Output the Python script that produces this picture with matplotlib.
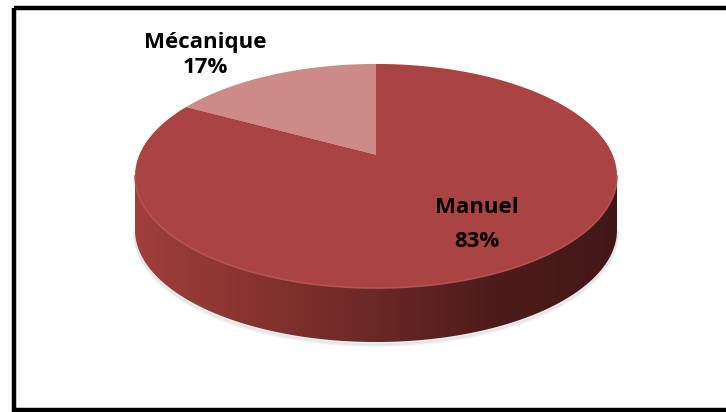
import numpy as np
import matplotlib.pyplot as plt
from matplotlib.patches import Polygon, Rectangle
from matplotlib.colors import LinearSegmentedColormap

# data
labels = ['Mécanique', 'Manuel']
values = [17, 83]
colors = ['#CD8A88', '#A94442']

# layout of the 3d pie (pixels)
cx, cy = 376, 154.7
sx, sy = 236.6, 108.0
k = 0.19          # perspective
depth = 54


def project(theta):
    u = np.cos(theta)
    v = np.sin(theta)
    d = 1 + k * v
    return cx + sx * u / d, cy - sy * v / d


fig = plt.figure(figsize=(7.26, 4.12), dpi=100)
ax = fig.add_axes([0, 0, 1, 1])
ax.set_xlim(0, 726)
ax.set_ylim(412, 0)
ax.axis('off')

# side of the pie
t_front = np.linspace(np.pi + np.arcsin(k), 2 * np.pi - np.arcsin(k), 300)
fx, fy = project(t_front)
side_pts = np.vstack([np.column_stack([fx, fy]),
                      np.column_stack([fx[::-1], fy[::-1] + depth])])

# soft shadow under the pie
for i, a in enumerate([0.06, 0.05, 0.04]):
    ax.plot(fx, fy + depth + 1.5 + i, color='#555555', alpha=a, lw=2.5, zorder=1)

side = Polygon(side_pts, closed=True, facecolor='none', edgecolor='none', zorder=2)
ax.add_patch(side)
cmap = LinearSegmentedColormap.from_list('side', ['#A03F3C', '#86332F', '#6A2826', '#4C1C1A', '#421816'])
grad = np.linspace(0, 1, 256).reshape(1, -1)
img = ax.imshow(grad, cmap=cmap, extent=[fx.min(), fx.max(), fy.max() + depth, fy.min()],
                aspect='auto', zorder=2, interpolation='bicubic')
img.set_clip_path(side)

# top faces
start = np.deg2rad(90)
total = sum(values)
for lab, val, col in zip(labels, values, colors):
    span = 2 * np.pi * val / total
    tt = np.linspace(start, start + span, 200)
    px, py = project(tt)
    pts = np.vstack([[cx, cy], np.column_stack([px, py])])
    ax.add_patch(Polygon(pts, closed=True, facecolor=col, edgecolor='none', zorder=3))
    start += span

# rim highlight
ax.plot(fx, fy, color='#B65350', lw=1.2, zorder=4)

# labels
font = dict(family=['Open Sans', 'DejaVu Sans'], weight='bold', fontsize=16, color='black',
            ha='center', va='baseline', zorder=5)
ax.text(205, 48, 'Mécanique', **font)
ax.text(205, 73, '17%', **font)
ax.text(476.5, 213, 'Manuel', **font)
ax.text(476.5, 247, '83%', **font)

# chart border
ax.add_patch(Rectangle((13.5, 7.5), 800, 402, facecolor='none', edgecolor='black',
                       lw=3.2, zorder=6, clip_on=False))

fig.savefig('out.png', dpi=100)
